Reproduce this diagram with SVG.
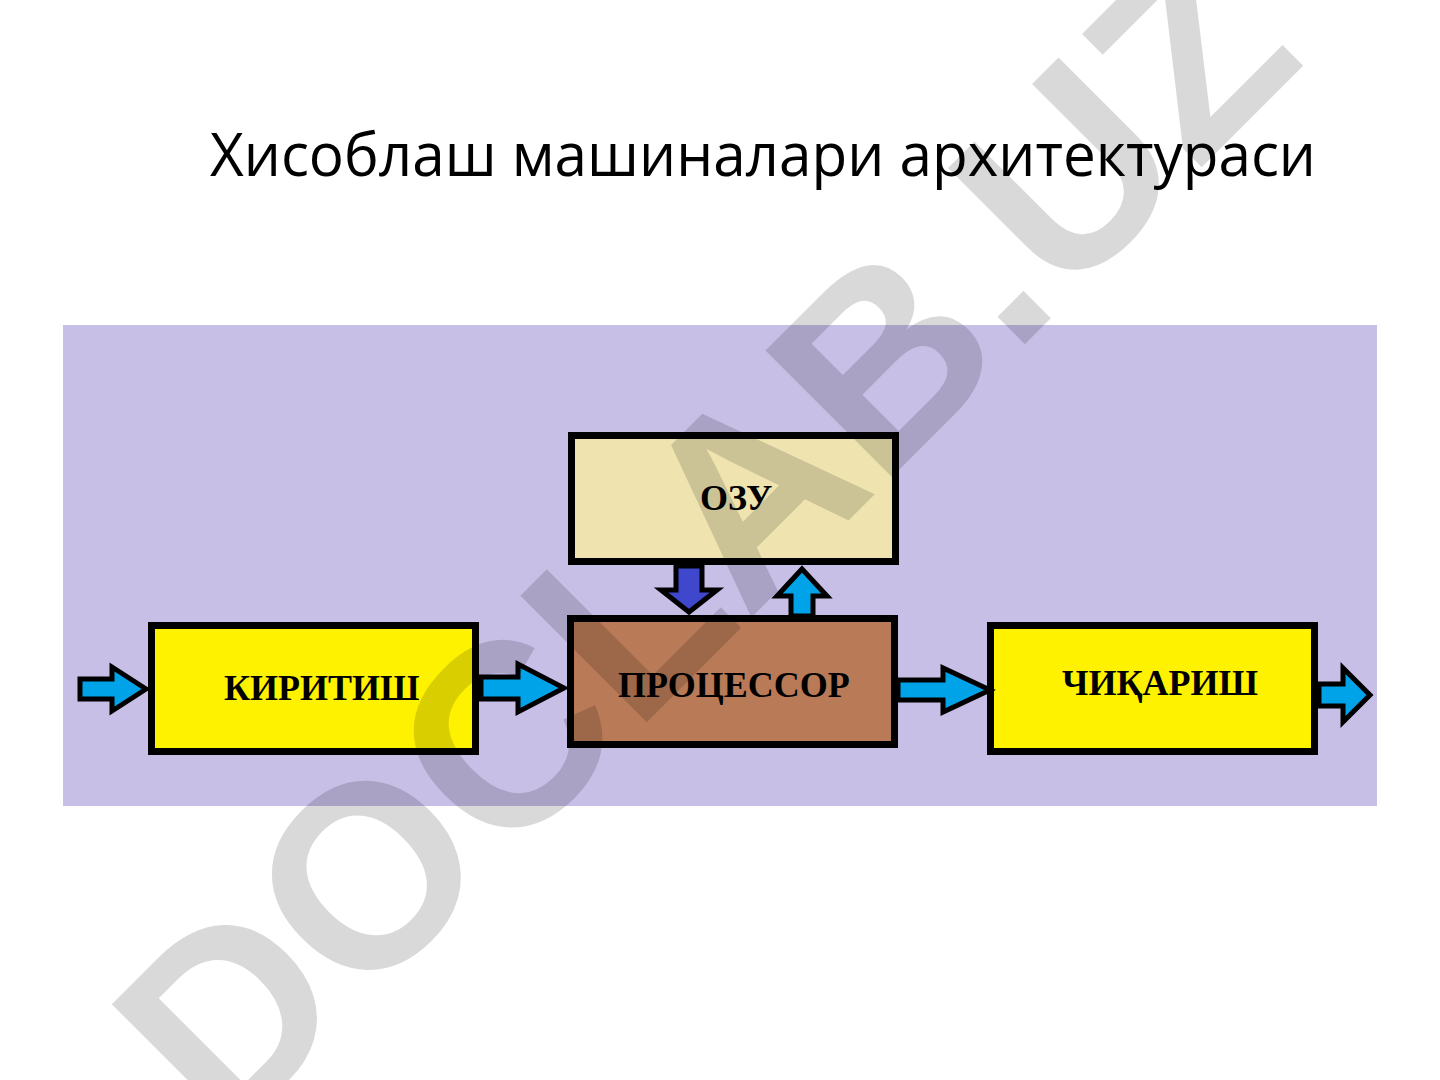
<svg xmlns="http://www.w3.org/2000/svg" width="1440" height="1080" viewBox="0 0 1440 1080">
  <style>
    .box { stroke: #000; stroke-width: 7; }
    .lbl { font-family: "Liberation Serif", "Times New Roman", serif; font-weight: bold; font-size: 36px; fill: #000; }
    .arr { stroke: #000; stroke-width: 5; stroke-linejoin: miter; }
    .lb { fill: #00A2E8; }
    .db { fill: #3F48CC; }
  </style>
  <rect x="0" y="0" width="1440" height="1080" fill="#FFFFFF"/>
  <text x="210" y="176" font-family="'Open Sans', 'Noto Sans', 'Liberation Sans', sans-serif" font-size="60" fill="#000" textLength="1106" lengthAdjust="spacingAndGlyphs">Хисоблаш машиналари архитектураси</text>
  <rect id="panel" x="63" y="325" width="1314" height="481" fill="#C8BFE7"/>

  <g id="ozu">
    <rect class="box" x="571.5" y="435.5" width="324" height="126" fill="#EFE4B0"/>
    <text class="lbl" x="700" y="510">ОЗУ</text>
  </g>
  <g id="processor">
    <rect class="box" x="570.5" y="618.5" width="324" height="126" fill="#B97A57"/>
    <text class="lbl" x="618" y="697">ПРОЦЕССОР</text>
  </g>
  <g id="kiritish">
    <rect class="box" x="151.5" y="625.5" width="324" height="126" fill="#FFF200"/>
    <text class="lbl" x="224" y="700">КИРИТИШ</text>
  </g>
  <g id="chiqarish">
    <rect class="box" x="990.5" y="625.5" width="324" height="126" fill="#FFF200"/>
    <text class="lbl" x="1062" y="695">ЧИҚАРИШ</text>
  </g>

  <g id="connectors">
    <polygon class="arr lb" points="80,679 112,679 112,667 146,689 112,711 112,699 80,699"/>
    <polygon class="arr lb" points="481,677 518,677 518,664 564,688 518,712 518,699 481,699"/>
    <polygon class="arr lb" points="898,680 943,680 943,668 990,690 943,712 943,700 898,700"/>
    <polygon class="arr lb" points="1319,684 1343,684 1343,668 1370,695 1343,722 1343,706 1319,706"/>
    <polygon class="arr db" points="676,566 702,566 702,590 717,590 689,612 661,590 676,590"/>
    <polygon class="arr lb" points="791,616 791,596 777,596 802,569 827,596 813,596 813,616"/>
  </g>

  <text id="watermark" transform="translate(226,1143) rotate(-45)" font-family="'Liberation Sans', Arial, sans-serif" font-weight="bold" font-size="260" fill="#000" fill-opacity="0.15">DOCLAB.UZ</text>
</svg>
